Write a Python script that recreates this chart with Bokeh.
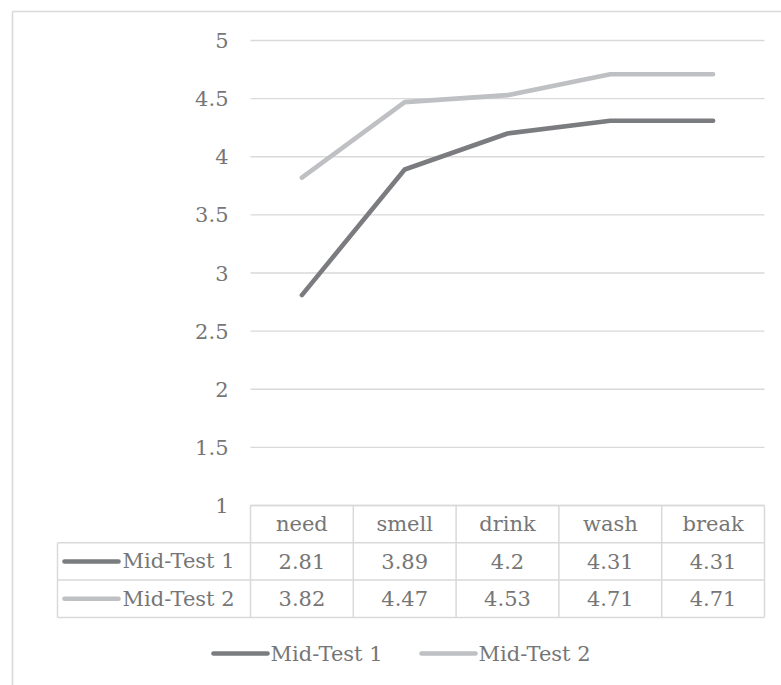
from bokeh.plotting import figure
from bokeh.models import Range1d
from bokeh.core.properties import value
from bokeh.embed import file_html
from bokeh.resources import INLINE

# ---- data -------------------------------------------------------------
categories = ["need", "smell", "drink", "wash", "break"]
series_names = ["Mid-Test 1", "Mid-Test 2"]
mid_test_1 = [2.81, 3.89, 4.2, 4.31, 4.31]
mid_test_2 = [3.82, 4.47, 4.53, 4.71, 4.71]
y_ticks = [1, 1.5, 2, 2.5, 3, 3.5, 4, 4.5, 5]
y_tick_labels = ["1", "1.5", "2", "2.5", "3", "3.5", "4", "4.5", "5"]

# ---- layout (pixels) --------------------------------------------------
W, H = 781, 685
PLOT_LEFT = 250          # left edge of the first category column
COL_W = 102.8            # width of one category column
Y_MAX = 5
PX_Y_MAX = 40            # pixel row of the top gridline
PX_PER_UNIT = 116.25     # vertical pixels per value unit
TABLE_TOP = 505
ROW_H = 37.3
LABEL_COL_LEFT = 57
BORDER = 12

FONT = value("DejaVu Serif")
FONT_SIZE = "21px"
TEXT_COLOR = "#767676"
RULE_COLOR = "#d9d9d9"
COLORS = ["#7b7c7f", "#bfc0c3"]

x_range = Range1d(-PLOT_LEFT / COL_W, (W - PLOT_LEFT) / COL_W)
y_range = Range1d(Y_MAX - (H - PX_Y_MAX) / PX_PER_UNIT, Y_MAX + PX_Y_MAX / PX_PER_UNIT)

p = figure(width=W, height=H, x_range=x_range, y_range=y_range,
           x_axis_location=None, y_axis_location=None, title=None,
           toolbar_location=None, min_border=0, output_backend="svg",
           outline_line_color=None, background_fill_color="white",
           border_fill_color="white")
p.grid.visible = False
p.extra_x_ranges = {"px": Range1d(0, W)}
p.extra_y_ranges = {"px": Range1d(H, 0)}

n = len(categories)
xs = [i + 0.5 for i in range(n)]

# chart area frame (top and left edges)
p.segment(x0=[BORDER, BORDER], y0=[BORDER - 1, BORDER - 1], x1=[W, BORDER], y1=[BORDER - 1, H],
          x_range_name="px", y_range_name="px", line_color=RULE_COLOR, line_width=1.6)

# horizontal gridlines
p.segment(x0=[0] * len(y_ticks), x1=[n] * len(y_ticks), y0=y_ticks, y1=y_ticks,
          line_color=RULE_COLOR, line_width=1.4)

# value axis labels
p.text(x=[PLOT_LEFT - 22] * len(y_ticks), y=y_ticks, text=y_tick_labels,
       x_range_name="px", text_align="right", text_baseline="middle",
       text_font=FONT, text_font_size=FONT_SIZE, text_color=TEXT_COLOR)

# series lines
for vals, col in zip([mid_test_1, mid_test_2], COLORS):
    p.line(x=xs, y=vals, line_color=col, line_width=4.6,
           line_cap="round", line_join="round")

# data table
rows = [TABLE_TOP + k * ROW_H for k in range(4)]
right = PLOT_LEFT + n * COL_W
# horizontal rules
p.segment(x0=[PLOT_LEFT] + [LABEL_COL_LEFT] * 3, x1=[right] * 4, y0=rows, y1=rows,
          x_range_name="px", y_range_name="px", line_color=RULE_COLOR, line_width=1.5)
# vertical rules
vx = [LABEL_COL_LEFT] + [PLOT_LEFT + i * COL_W for i in range(n + 1)]
vy0 = [rows[1]] + [rows[0]] * (n + 1)
p.segment(x0=vx, x1=vx, y0=vy0, y1=[rows[3]] * len(vx),
          x_range_name="px", y_range_name="px", line_color=RULE_COLOR, line_width=1.5)

# header row
p.text(x=xs, y=[rows[0] + ROW_H / 2] * n, text=categories, y_range_name="px",
       text_align="center", text_baseline="middle",
       text_font=FONT, text_font_size=FONT_SIZE, text_color=TEXT_COLOR)

# value rows with legend keys
for k, (name, vals, col) in enumerate(zip(series_names, [mid_test_1, mid_test_2], COLORS)):
    yc = rows[k + 1] + ROW_H / 2
    p.text(x=xs, y=[yc] * n, text=[str(v) for v in vals], y_range_name="px",
           text_align="center", text_baseline="middle",
           text_font=FONT, text_font_size=FONT_SIZE, text_color=TEXT_COLOR)
    p.segment(x0=[LABEL_COL_LEFT + 7], x1=[LABEL_COL_LEFT + 61], y0=[yc], y1=[yc],
              x_range_name="px", y_range_name="px", line_color=col, line_width=4.6,
              line_cap="round")
    p.text(x=[LABEL_COL_LEFT + 65], y=[yc], text=[name],
           x_range_name="px", y_range_name="px", text_align="left", text_baseline="middle",
           text_font=FONT, text_font_size=FONT_SIZE, text_color=TEXT_COLOR)

# legend below the table
LEG_Y = 653
leg_x = [213, 421]
for name, col, lx in zip(series_names, COLORS, leg_x):
    p.segment(x0=[lx], x1=[lx + 54], y0=[LEG_Y], y1=[LEG_Y],
              x_range_name="px", y_range_name="px", line_color=col, line_width=4.6,
              line_cap="round")
    p.text(x=[lx + 57], y=[LEG_Y], text=[name],
           x_range_name="px", y_range_name="px", text_align="left", text_baseline="middle",
           text_font=FONT, text_font_size=FONT_SIZE, text_color=TEXT_COLOR)

open("out.html", "w").write(file_html(p, INLINE))
